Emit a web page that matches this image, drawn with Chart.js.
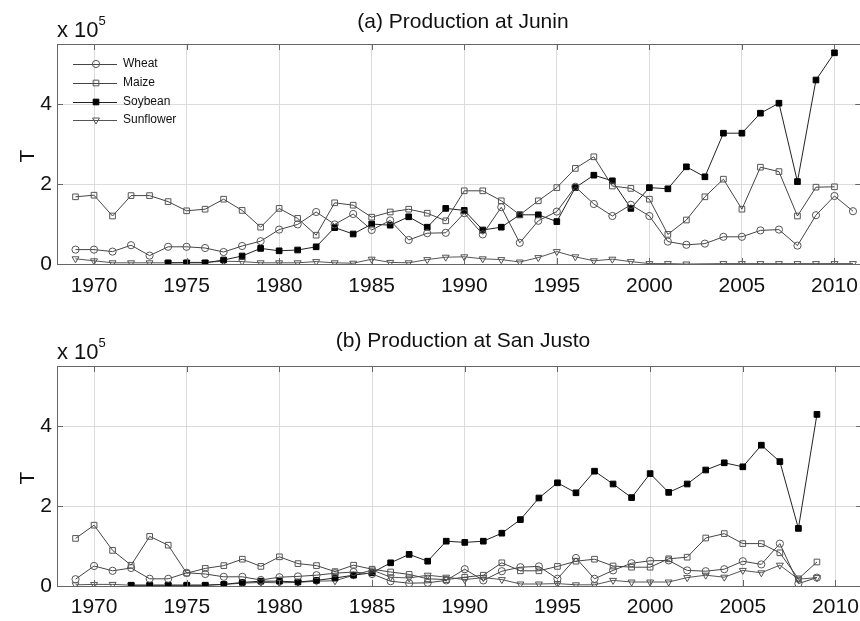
<!DOCTYPE html>
<html>
<head>
<meta charset="utf-8">
<script src="https://cdn.jsdelivr.net/npm/chart.js@4.4.1/dist/chart.umd.min.js"></script>
<style>
    body{margin:0;background:#fff;font-family:"Liberation Sans",Arial,sans-serif;color:#111;}
    #wrap{position:relative;width:860px;height:621px;overflow:hidden;}
    canvas{position:absolute;left:0;}
    .txt{position:absolute;white-space:nowrap;line-height:1;}
    .title{font-size:21px;transform:translateX(-50%);}
    .expo{font-size:22px;left:57px;}
    .expo sup{font-size:13px;position:relative;top:-5px;vertical-align:top;}
    .ylab{font-size:21px;transform:translate(-50%,-50%) rotate(-90deg);}
</style>
</head>
<body>
<div id="wrap">
    <canvas id="chart_a" width="868" height="300" style="top:0"></canvas>
    <canvas id="chart_b" width="868" height="321" style="top:300px"></canvas>
    <div class="txt title" style="left:463px;top:10px">(a) Production at Junin</div>
    <div class="txt title" style="left:463px;top:329px">(b) Production at San Justo</div>
    <div class="txt expo" style="top:19px">x 10<sup>5</sup></div>
    <div class="txt expo" style="top:341px">x 10<sup>5</sup></div>
    <div class="txt ylab" style="left:26px;top:156px">T</div>
    <div class="txt ylab" style="left:26px;top:478px">T</div>
</div>
<script>
// values in units of 10^5 T
var yearsA = [1969,1970,1971,1972,1973,1974,1975,1976,1977,1978,1979,1980,1981,1982,1983,1984,1985,1986,1987,1988,1989,1990,
    1991,1992,1993,1994,1995,1996,1997,1998,1999,2000,2001,2002,2003,2004,2005,2006,2007,2008,2009,2010,2011];
var wheatA = [0.36,0.36,0.31,0.47,0.21,0.43,0.43,0.40,0.30,0.45,0.57,0.86,0.99,1.30,0.99,1.25,0.85,1.09,0.60,0.77,0.78,1.27,
    0.74,1.42,0.53,1.08,1.31,1.93,1.50,1.20,1.48,1.20,0.56,0.48,0.51,0.68,0.68,0.84,0.86,0.46,1.22,1.70,1.32];
var maizeA = [1.68,1.72,1.20,1.71,1.71,1.56,1.33,1.37,1.62,1.34,0.92,1.39,1.14,0.72,1.53,1.47,1.17,1.30,1.37,1.27,1.08,1.83,
    1.83,1.58,1.23,1.58,1.91,2.39,2.68,1.95,1.89,1.62,0.74,1.10,1.68,2.12,1.37,2.42,2.31,1.20,1.92,1.93,null];
var soyA = [null,null,null,null,null,0.03,0.03,0.03,0.10,0.20,0.39,0.33,0.35,0.43,0.91,0.75,1.00,0.97,1.18,0.92,1.39,1.34,
    0.85,0.92,1.23,1.23,1.06,1.91,2.22,2.08,1.39,1.91,1.88,2.43,2.18,3.27,3.27,3.77,4.02,2.06,4.60,5.28,null];
var sunA = [0.13,0.08,0.03,0.03,0.03,0.03,0.04,0.04,0.07,0.06,0.03,0.03,0.03,0.06,0.03,0.02,0.12,0.04,0.03,0.11,0.17,0.18,
    0.13,0.11,0.05,0.16,0.31,0.18,0.08,0.12,0.06,0.01,0.01,0.00,null,0.01,0.01,0.01,0.01,0.01,0.01,0.01,0.01];

var yearsB = [1969,1970,1971,1972,1973,1974,1975,1976,1977,1978,1979,1980,1981,1982,1983,1984,1985,1986,1987,1988,1989,1990,
    1991,1992,1993,1994,1995,1996,1997,1998,1999,2000,2001,2002,2003,2004,2005,2006,2007,2008,2009];
var wheatB = [0.17,0.50,0.38,0.45,0.18,0.18,0.33,0.30,0.23,0.23,0.15,0.22,0.24,0.27,0.32,0.35,0.30,0.12,0.07,0.08,0.14,0.42,
    0.14,0.37,0.47,0.49,0.18,0.70,0.18,0.39,0.57,0.63,0.64,0.39,0.37,0.42,0.62,0.54,1.06,0.06,0.21];
var maizeB = [1.19,1.52,0.89,0.52,1.24,1.02,0.32,0.44,0.51,0.67,0.49,0.73,0.56,0.51,0.36,0.52,0.42,0.35,0.29,0.18,0.16,0.22,
    0.27,0.58,0.38,0.38,0.49,0.62,0.67,0.50,0.47,0.47,0.68,0.72,1.20,1.31,1.06,1.06,0.83,0.18,0.60];
var soyB = [null,null,null,0.02,0.02,0.02,0.02,0.02,0.04,0.09,0.12,0.12,0.10,0.14,0.20,0.27,0.33,0.58,0.79,0.62,1.12,1.09,
    1.12,1.32,1.66,2.20,2.58,2.33,2.87,2.55,2.21,2.81,2.34,2.55,2.90,3.08,2.98,3.52,3.11,1.44,4.29];
var sunB = [0.03,0.04,0.04,0.02,0.02,0.02,0.02,0.02,0.04,0.07,0.09,0.08,0.09,0.12,0.13,0.27,0.40,0.22,0.20,0.27,0.22,0.16,
    0.21,0.16,0.05,0.05,0.06,0.03,0.03,0.14,0.10,0.10,0.10,0.21,0.27,0.22,0.39,0.33,0.52,0.17,0.21];

var seriesNames = ["Wheat", "Maize", "Soybean", "Sunflower"];
var xTicks = [1970,1975,1980,1985,1990,1995,2000,2005,2010];
var yTicks = [0,2,4];

var looks = [
    {pointStyle: 'circle', radius: 3.6, rotation: 0, edge: '#555', fill: 'rgba(0,0,0,0)', line: '#444'},
    {pointStyle: 'rect', radius: 4, rotation: 0, edge: '#555', fill: 'rgba(0,0,0,0)', line: '#444'},
    {pointStyle: 'rect', radius: 4, rotation: 0, edge: '#000', fill: '#000', line: '#222'},
    {pointStyle: 'triangle', radius: 4, rotation: 180, edge: '#555', fill: 'rgba(0,0,0,0)', line: '#555'}
];

function makeSets(years, lists){
    return lists.map(function(vals, i){
        var lk = looks[i];
        return {
            label: seriesNames[i],
            data: years.map(function(x, j){ return {x: x, y: vals[j]}; }),
            borderColor: lk.line,
            borderWidth: 1,
            pointStyle: lk.pointStyle,
            pointRadius: lk.radius,
            pointRotation: lk.rotation,
            pointBorderColor: lk.edge,
            pointBackgroundColor: lk.fill,
            pointBorderWidth: 1,
            spanGaps: true,
            tension: 0
        };
    });
}

// box round the plot and inward tick marks, like the matlab axes
var framePlugin = {
    id: 'frame',
    afterDraw: function(chart){
        var ctx = chart.ctx, a = chart.chartArea;
        var xs = chart.scales.x, ys = chart.scales.y;
        ctx.save();
        ctx.strokeStyle = '#666';
        ctx.lineWidth = 1;
        ctx.strokeRect(a.left + 0.5, a.top + 0.5, a.right - a.left, a.bottom - a.top);
        ctx.beginPath();
        xTicks.forEach(function(t){
            var px = Math.round(xs.getPixelForValue(t)) + 0.5;
            ctx.moveTo(px, a.top); ctx.lineTo(px, a.top + 6);
            ctx.moveTo(px, a.bottom); ctx.lineTo(px, a.bottom - 6);
        });
        yTicks.forEach(function(t){
            var py = Math.round(ys.getPixelForValue(t)) + 0.5;
            ctx.moveTo(a.left, py); ctx.lineTo(a.left + 6, py);
            ctx.moveTo(a.right, py); ctx.lineTo(a.right - 6, py);
        });
        ctx.stroke();
        ctx.restore();
    }
};

var legendPlugin = {
    id: 'lineLegend',
    afterDraw: function(chart){
        var ctx = chart.ctx;
        var rowY = [64, 83, 102, 120];
        ctx.save();
        ctx.font = '12px "Liberation Sans", Arial, sans-serif';
        ctx.textBaseline = 'middle';
        seriesNames.forEach(function(name, i){
            var lk = looks[i];
            ctx.strokeStyle = lk.line;
            ctx.lineWidth = 1;
            ctx.beginPath();
            ctx.moveTo(73, rowY[i] + 0.5);
            ctx.lineTo(117, rowY[i] + 0.5);
            ctx.stroke();
            ctx.strokeStyle = lk.edge;
            ctx.fillStyle = lk.fill;
            Chart.helpers.drawPoint(ctx, {pointStyle: lk.pointStyle, radius: lk.radius, rotation: lk.rotation, borderWidth: 1}, 96, rowY[i]);
            ctx.fillStyle = '#111';
            ctx.fillText(name, 123, rowY[i]);
        });
        ctx.restore();
    }
};

function panel(id, years, lists, plotTop, plotBottom, canvasH, tickPad, extra){
    var conf = {
        type: 'line',
        data: {datasets: makeSets(years, lists)},
        options: {
            responsive: false,
            animation: false,
            layout: {padding: {top: plotTop, left: 0, right: 0, bottom: 0}},
            plugins: {
                legend: {display: false},
                tooltip: {enabled: false}
            },
            scales: {
                x: {
                    type: 'linear',
                    min: 1968,
                    max: 2011.45,
                    afterBuildTicks: function(s){ s.ticks = xTicks.map(function(v){ return {value: v}; }); },
                    afterFit: function(s){ s.height = canvasH - plotBottom; },
                    grid: {color: '#dcdcdc', drawTicks: false},
                    border: {display: false},
                    ticks: {
                        color: '#111',
                        padding: tickPad,
                        maxRotation: 0,
                        font: {family: '"Liberation Sans", Arial, sans-serif', size: 21},
                        callback: function(v){ return String(v); }
                    }
                },
                y: {
                    min: 0,
                    max: 5.5,
                    afterBuildTicks: function(s){ s.ticks = yTicks.map(function(v){ return {value: v}; }); },
                    afterFit: function(s){ s.width = 57; },
                    grid: {color: '#dcdcdc', drawTicks: false},
                    border: {display: false},
                    ticks: {
                        color: '#111',
                        padding: 5,
                        font: {family: '"Liberation Sans", Arial, sans-serif', size: 21}
                    }
                }
            }
        },
        plugins: [framePlugin].concat(extra)
    };
    return new Chart(document.getElementById(id), conf);
}

panel('chart_a', yearsA, [wheatA, maizeA, soyA, sunA], 44, 264, 300, 10, [legendPlugin]);
panel('chart_b', yearsB, [wheatB, maizeB, soyB, sunB], 66, 286, 321, 9, []);
</script>
</body>
</html>
